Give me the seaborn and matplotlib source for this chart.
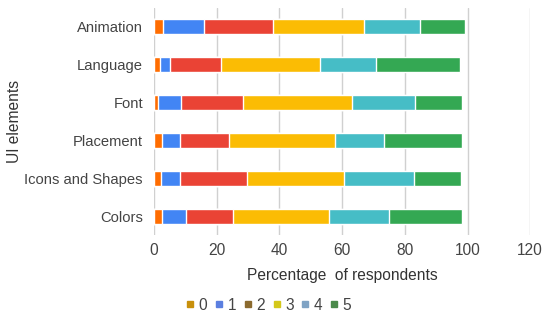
import numpy as np
import pandas as pd
import matplotlib
matplotlib.use("Agg")
import matplotlib.pyplot as plt
from matplotlib.lines import Line2D
import seaborn as sns

# data (percent of respondents per rating)
elements = ["Animation", "Language", "Font", "Placement", "Icons and Shapes", "Colors"]
r0 = [2.8, 1.9, 1.3, 2.5, 2.3, 2.5]
r1 = [13.0, 3.2, 7.3, 5.8, 6.0, 7.6]
r2 = [22.0, 16.2, 19.9, 15.7, 21.5, 15.0]
r3 = [29.3, 31.5, 34.8, 33.7, 30.7, 30.8]
r4 = [17.7, 18.1, 19.9, 15.8, 22.4, 19.2]
r5 = [14.4, 26.8, 15.2, 24.6, 14.9, 23.0]
ratings = ["0", "1", "2", "3", "4", "5"]

bar_colors = ["#ff6d01", "#4285f4", "#ea4335", "#fbbc04", "#46bdc6", "#34a853"]
legend_colors = ["#c8900b", "#5b7fe0", "#8b6a2e", "#d4c81a", "#7fa3c4", "#4a8a4a"]

sns.set_theme(style="white")
plt.rcParams['font.family'] = ['Liberation Sans', 'DejaVu Sans']

df = pd.DataFrame({"element": elements, "0": r0, "1": r1, "2": r2,
                   "3": r3, "4": r4, "5": r5})
cum = df[ratings].cumsum(axis=1)

fig = plt.figure(figsize=(5.5, 3.27), dpi=100)
ax = fig.add_axes([0.28, 0.281, 0.684, 0.695])

# stacked bars: draw cumulative totals from the outermost layer inward
for i in range(len(ratings) - 1, -1, -1):
    sns.barplot(x=cum[ratings[i]], y=df["element"], color=bar_colors[i],
                orient="h", width=0.4, saturation=1, ax=ax, zorder=3)

ax.set_xlim(0, 120)
ax.set_xticks(np.arange(0, 121, 20))
ax.grid(axis="x", color="#d0d0d0", linewidth=1, zorder=0)
for s in ax.spines.values():
    s.set_visible(False)
ax.tick_params(axis="y", length=0, labelsize=10.6, colors="#444444", pad=8)
ax.tick_params(axis="x", length=0, labelsize=11.2, colors="#444444", pad=6)
ax.set_xlabel("Percentage  of respondents", fontsize=11.2, color="#333333", labelpad=7)
ax.set_ylabel("UI elements", fontsize=11.2, color="#333333")
ax.yaxis.set_label_coords(-0.35, 0.5)

handles = [Line2D([0], [0], marker="s", linestyle="", markersize=5,
                  markerfacecolor=c, markeredgecolor=c) for c in legend_colors]
fig.legend(handles, ratings, loc="center", bbox_to_anchor=(0.488, 0.067),
           ncol=6, frameon=False, fontsize=11.2, handlelength=0.6,
           handletextpad=0.25, columnspacing=0.45, labelcolor="#444444")

fig.savefig("out.png", dpi=100)
